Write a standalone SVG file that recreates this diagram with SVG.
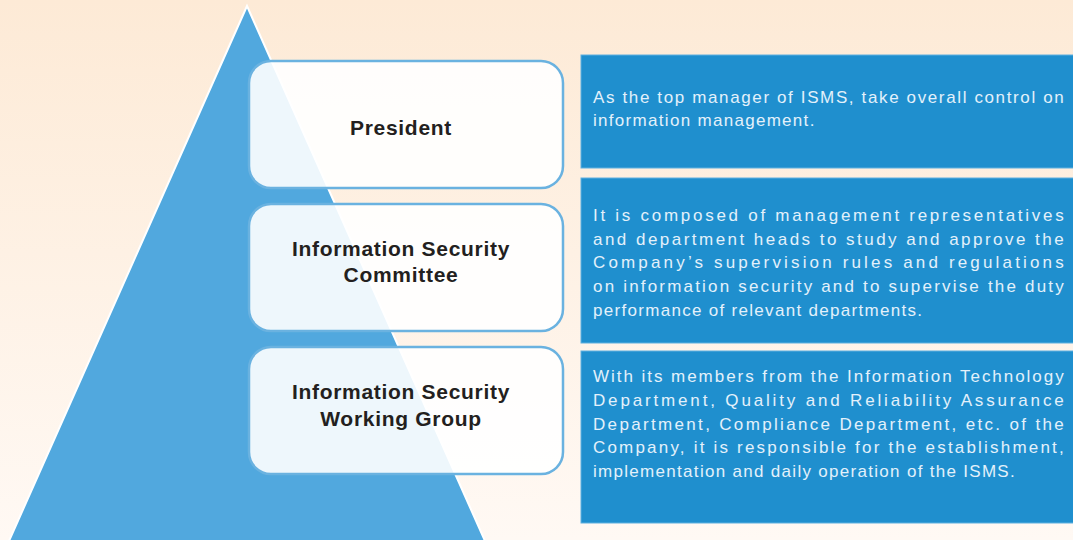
<svg xmlns="http://www.w3.org/2000/svg" width="1073" height="540" viewBox="0 0 1073 540">
<defs>
<linearGradient id="bg" x1="0" y1="0" x2="0" y2="1">
<stop offset="0" stop-color="#fdead6"/>
<stop offset="1" stop-color="#fff9f4"/>
</linearGradient>
</defs>
<style>
.tier{fill:#ffffff;fill-opacity:0.9;stroke:#6ab2e0;stroke-width:2.5}
.title{font-family:"Liberation Sans",Arial,sans-serif;font-weight:bold;font-size:21px;fill:#231f20;text-anchor:middle;letter-spacing:0.7px}
.panel{fill:#1f8fce;stroke:#5fb0e0;stroke-width:1}
.desc{font-family:"Liberation Sans",Arial,sans-serif;font-size:17px;fill:#e3f1fb;letter-spacing:1.3px}
</style>
<rect x="0" y="0" width="1073" height="540" fill="url(#bg)"/>
<g id="pyramid">
<polygon points="247,6 9,541 485,541" fill="#51a8de" stroke="#ffffff" stroke-width="2"/>
</g>
<g id="connectors"></g>
<g id="president">
<rect class="tier" x="249" y="61" width="314" height="127" rx="22"/>
<text class="title" x="401" y="135">President</text>
</g>
<g id="committee">
<rect class="tier" x="249" y="204" width="314" height="127" rx="22"/>
<text class="title" x="401" y="256">Information Security</text>
<text class="title" x="401" y="282">Committee</text>
</g>
<g id="working-group">
<rect class="tier" x="249" y="347" width="314" height="127" rx="22"/>
<text class="title" x="401" y="399">Information Security</text>
<text class="title" x="401" y="426">Working Group</text>
</g>
<g id="desc-president">
<rect class="panel" x="581" y="55" width="500" height="113"/>
<text class="desc" x="593" y="103" textLength="472" lengthAdjust="spacing">As the top manager of ISMS, take overall control on</text>
<text class="desc" x="593" y="126">information management.</text>
</g>
<g id="desc-committee">
<rect class="panel" x="581" y="178" width="500" height="165"/>
<text class="desc" x="593" y="221" textLength="472" lengthAdjust="spacing">It is composed of management representatives</text>
<text class="desc" x="593" y="245" textLength="472" lengthAdjust="spacing">and department heads to study and approve the</text>
<text class="desc" x="593" y="268" textLength="472" lengthAdjust="spacing">Company’s supervision rules and regulations</text>
<text class="desc" x="593" y="292" textLength="472" lengthAdjust="spacing">on information security and to supervise the duty</text>
<text class="desc" x="593" y="316">performance of relevant departments.</text>
</g>
<g id="desc-working-group">
<rect class="panel" x="581" y="351" width="500" height="172"/>
<text class="desc" x="593" y="382" textLength="472" lengthAdjust="spacing">With its members from the Information Technology</text>
<text class="desc" x="593" y="406" textLength="472" lengthAdjust="spacing">Department, Quality and Reliability Assurance</text>
<text class="desc" x="593" y="430" textLength="472" lengthAdjust="spacing">Department, Compliance Department, etc. of the</text>
<text class="desc" x="593" y="453" textLength="472" lengthAdjust="spacing">Company, it is responsible for the establishment,</text>
<text class="desc" x="593" y="477">implementation and daily operation of the ISMS.</text>
</g>
</svg>
